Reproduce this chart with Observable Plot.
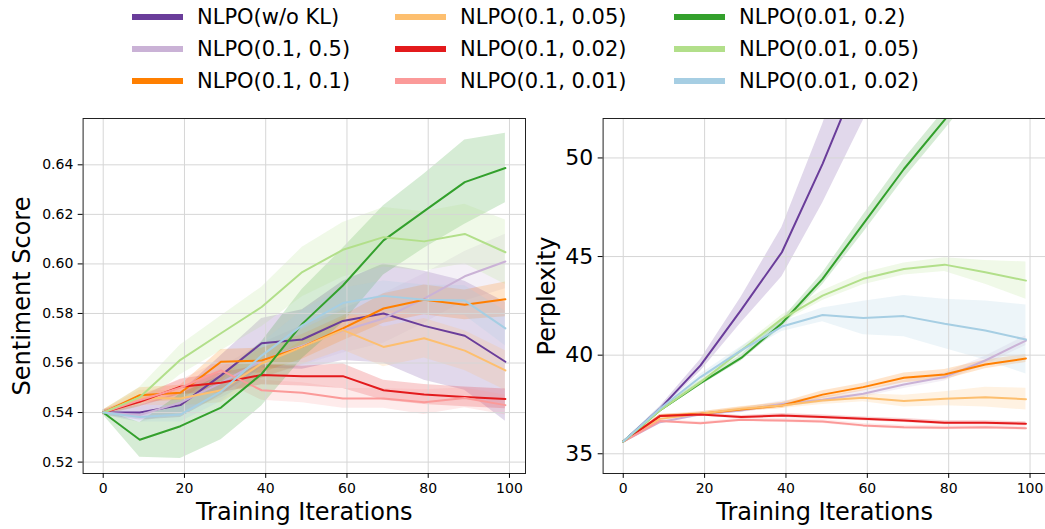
<!DOCTYPE html>
<html><head><meta charset="utf-8">
<script src="https://cdn.jsdelivr.net/npm/d3@7"></script>
<script src="https://cdn.jsdelivr.net/npm/@observablehq/plot@0.6"></script>
<style>
html,body{margin:0;padding:0;background:#fff;}
#fig{position:relative;width:1045px;height:529px;overflow:hidden;font-family:"DejaVu Sans",sans-serif;background:#fff;}
#fig svg{position:absolute;top:0;}
.leg{position:absolute;display:flex;align-items:center;height:24px;font-size:21px;white-space:nowrap;color:#000;}
.sw{width:51px;height:6px;margin-right:14px;flex:none;}
</style></head><body><div id="fig"></div>
<script>
const iterations = [0, 9, 19, 29, 39, 49, 59, 69, 79, 89, 99];
const seriesNames = ["NLPO(w/o KL)", "NLPO(0.1, 0.5)", "NLPO(0.1, 0.1)", "NLPO(0.1, 0.05)", "NLPO(0.1, 0.02)", "NLPO(0.1, 0.01)", "NLPO(0.01, 0.2)", "NLPO(0.01, 0.05)", "NLPO(0.01, 0.02)"];
const seriesColors = ["#6a3d9a", "#cab2d6", "#ff7f00", "#fdbf6f", "#e31a1c", "#fb9a99", "#33a02c", "#b2df8a", "#a6cee3"];
const xTicks = [0, 20, 40, 60, 80, 100];
const sentimentTicks = [0.52, 0.54, 0.56, 0.58, 0.60, 0.62, 0.64];
const perplexityTicks = [35, 40, 45, 50];

const sentimentMean = [
  [0.540, 0.540, 0.543, 0.555, 0.568, 0.5695, 0.577, 0.580, 0.575, 0.571, 0.5605],
  [0.540, 0.539, 0.544, 0.552, 0.561, 0.567, 0.573, 0.578, 0.586, 0.595, 0.601],
  [0.540, 0.547, 0.548, 0.5605, 0.561, 0.5665, 0.574, 0.582, 0.5855, 0.5835, 0.5857],
  [0.540, 0.546, 0.5457, 0.549, 0.5598, 0.5665, 0.5733, 0.5665, 0.570, 0.565, 0.557],
  [0.540, 0.5443, 0.5504, 0.552, 0.5552, 0.5547, 0.5547, 0.549, 0.5473, 0.5463, 0.5455],
  [0.540, 0.545, 0.550, 0.557, 0.549, 0.548, 0.5457, 0.5457, 0.5442, 0.5459, 0.543],
  [0.540, 0.529, 0.5345, 0.542, 0.5556, 0.5758, 0.5913, 0.6095, 0.6213, 0.633, 0.6387],
  [0.540, 0.5462, 0.5613, 0.572, 0.5826, 0.5967, 0.6057, 0.6108, 0.6091, 0.6121, 0.6047],
  [0.540, 0.5382, 0.5392, 0.5485, 0.563, 0.5752, 0.5842, 0.5871, 0.5855, 0.5852, 0.574]
];
const sentimentSpread = [
  [0.001, 0.003, 0.005, 0.008, 0.010, 0.012, 0.016, 0.020, 0.022, 0.022, 0.024],
  [0.001, 0.003, 0.004, 0.006, 0.007, 0.008, 0.009, 0.010, 0.010, 0.010, 0.011],
  [0.001, 0.003, 0.003, 0.005, 0.005, 0.005, 0.005, 0.006, 0.006, 0.006, 0.007],
  [0.001, 0.003, 0.003, 0.005, 0.006, 0.007, 0.008, 0.008, 0.008, 0.008, 0.008],
  [0.001, 0.002, 0.003, 0.004, 0.004, 0.004, 0.005, 0.004, 0.004, 0.004, 0.004],
  [0.001, 0.002, 0.003, 0.004, 0.004, 0.004, 0.004, 0.004, 0.005, 0.004, 0.004],
  [0.001, 0.007, 0.013, 0.013, 0.013, 0.014, 0.015, 0.014, 0.015, 0.017, 0.014],
  [0.001, 0.004, 0.006, 0.007, 0.008, 0.010, 0.011, 0.012, 0.012, 0.012, 0.013],
  [0.001, 0.002, 0.003, 0.004, 0.005, 0.006, 0.006, 0.006, 0.006, 0.006, 0.007]
];
const perplexityMean = [
  [35.62, 37.28, 39.48, 42.3, 45.22, 49.7, 54.7, 60, 65, 70, 75],
  [35.62, 36.6, 37.0, 37.2, 37.53, 37.74, 38.04, 38.51, 38.89, 39.73, 40.74],
  [35.62, 36.91, 37.03, 37.25, 37.45, 38.0, 38.38, 38.85, 39.02, 39.53, 39.83],
  [35.62, 36.77, 37.03, 37.28, 37.45, 37.7, 37.84, 37.67, 37.79, 37.87, 37.77],
  [35.62, 36.91, 36.99, 36.86, 36.94, 36.86, 36.77, 36.69, 36.57, 36.57, 36.52],
  [35.62, 36.66, 36.55, 36.72, 36.69, 36.64, 36.44, 36.35, 36.32, 36.35, 36.3],
  [35.62, 37.2, 38.58, 39.86, 41.62, 43.87, 46.66, 49.44, 51.93, 54.5, 57],
  [35.62, 37.2, 38.63, 40.24, 41.84, 43.02, 43.87, 44.37, 44.59, 44.2, 43.78],
  [35.62, 37.28, 38.89, 40.24, 41.45, 42.04, 41.89, 41.98, 41.59, 41.25, 40.79]
];
const perplexitySpread = [
  [0.02, 0.1, 0.3, 0.65, 1.25, 2.0, 2.8, 3.5, 4, 4.5, 5],
  [0.02, 0.08, 0.1, 0.12, 0.15, 0.15, 0.18, 0.2, 0.2, 0.22, 0.25],
  [0.02, 0.08, 0.1, 0.12, 0.15, 0.2, 0.2, 0.25, 0.25, 0.22, 0.2],
  [0.02, 0.08, 0.1, 0.12, 0.15, 0.2, 0.2, 0.3, 0.35, 0.5, 0.55],
  [0.02, 0.08, 0.08, 0.08, 0.1, 0.1, 0.1, 0.1, 0.1, 0.1, 0.1],
  [0.02, 0.08, 0.08, 0.08, 0.1, 0.1, 0.1, 0.1, 0.1, 0.1, 0.1],
  [0.02, 0.1, 0.12, 0.15, 0.2, 0.3, 0.45, 0.5, 0.5, 0.5, 0.5],
  [0.02, 0.1, 0.12, 0.15, 0.2, 0.25, 0.3, 0.3, 0.35, 0.6, 0.95],
  [0.02, 0.1, 0.15, 0.2, 0.25, 0.35, 0.85, 1.05, 1.25, 1.5, 1.75]
];

function rowsFor(means, spreads, k) {
  return iterations.map((x, i) => ({x, mean: means[k][i], lo: means[k][i] - spreads[k][i], hi: means[k][i] + spreads[k][i]}));
}

function panel(o) {
  const bands = [], lines = [];
  seriesNames.forEach((name, k) => {
    const rows = rowsFor(o.means, o.spreads, k);
    bands.push(Plot.areaY(rows, {x: "x", y1: "lo", y2: "hi", fill: seriesColors[k], fillOpacity: 0.2, clip: true}));
    lines.push(Plot.lineY(rows, {x: "x", y: "mean", stroke: seriesColors[k], strokeWidth: 2, clip: true}));
  });
  return Plot.plot({
    width: o.width, height: 529,
    marginTop: 118, marginBottom: 56, marginLeft: 82.6, marginRight: o.marginRight,
    style: {fontFamily: "DejaVu Sans", color: "black", background: "transparent", overflow: "visible"},
    x: {domain: [-4.95, 103.95], label: null},
    y: {domain: o.yDomain, label: null},
    marks: [
      ...bands,
      Plot.gridX(xTicks, {stroke: "#d6d6d6", strokeOpacity: 1, strokeWidth: 1}),
      Plot.gridY(o.yTicks, {stroke: "#d6d6d6", strokeOpacity: 1, strokeWidth: 1}),
      ...lines,
      Plot.frame({stroke: "#222", strokeWidth: 1}),
      Plot.axisX(xTicks, {tickSize: 4.9, tickPadding: 4.9, fontSize: 14, tickFormat: d => String(d), label: null}),
      Plot.axisY(o.yTicks, {tickSize: 4.9, tickPadding: 4.9, fontSize: o.yFont, tickFormat: o.yFormat, label: null}),
      Plot.text([o.yLabel], {text: d => d, frameAnchor: "left", dx: o.labelDx, rotate: -90, fontSize: 24, textAnchor: "middle", lineAnchor: "middle", fill: "black"}),
      Plot.text(["Training Iterations"], {text: d => d, frameAnchor: "bottom", dy: 39, fontSize: 24, textAnchor: "middle", lineAnchor: "middle", fill: "black"})
    ]
  });
}

const fig = document.getElementById("fig");
const left = panel({means: sentimentMean, spreads: sentimentSpread, yDomain: [0.5154, 0.6587], yTicks: sentimentTicks, yFormat: d3.format(".2f"), yFont: 14, yLabel: "Sentiment Score", labelDx: -60.6, width: 540, marginRight: 15});
left.style.left = "0px";
fig.appendChild(left);
const right = panel({means: perplexityMean, spreads: perplexitySpread, yDomain: [34, 52], yTicks: perplexityTicks, yFormat: d => String(d), yFont: 22, yLabel: "Perplexity", labelDx: -55.6, width: 526, marginRight: 0.4});
right.style.left = "520px";
fig.appendChild(right);

const legX = [132, 395, 674];
const legY = [17, 49, 81];
seriesNames.forEach((name, k) => {
  const col = Math.floor(k / 3), row = k % 3;
  const d = document.createElement("div");
  d.className = "leg";
  d.style.left = legX[col] + "px";
  d.style.top = (legY[row] - 12) + "px";
  const sw = document.createElement("div");
  sw.className = "sw";
  sw.style.background = seriesColors[k];
  const t = document.createElement("span");
  t.textContent = name;
  d.appendChild(sw); d.appendChild(t);
  fig.appendChild(d);
});
</script></body></html>
